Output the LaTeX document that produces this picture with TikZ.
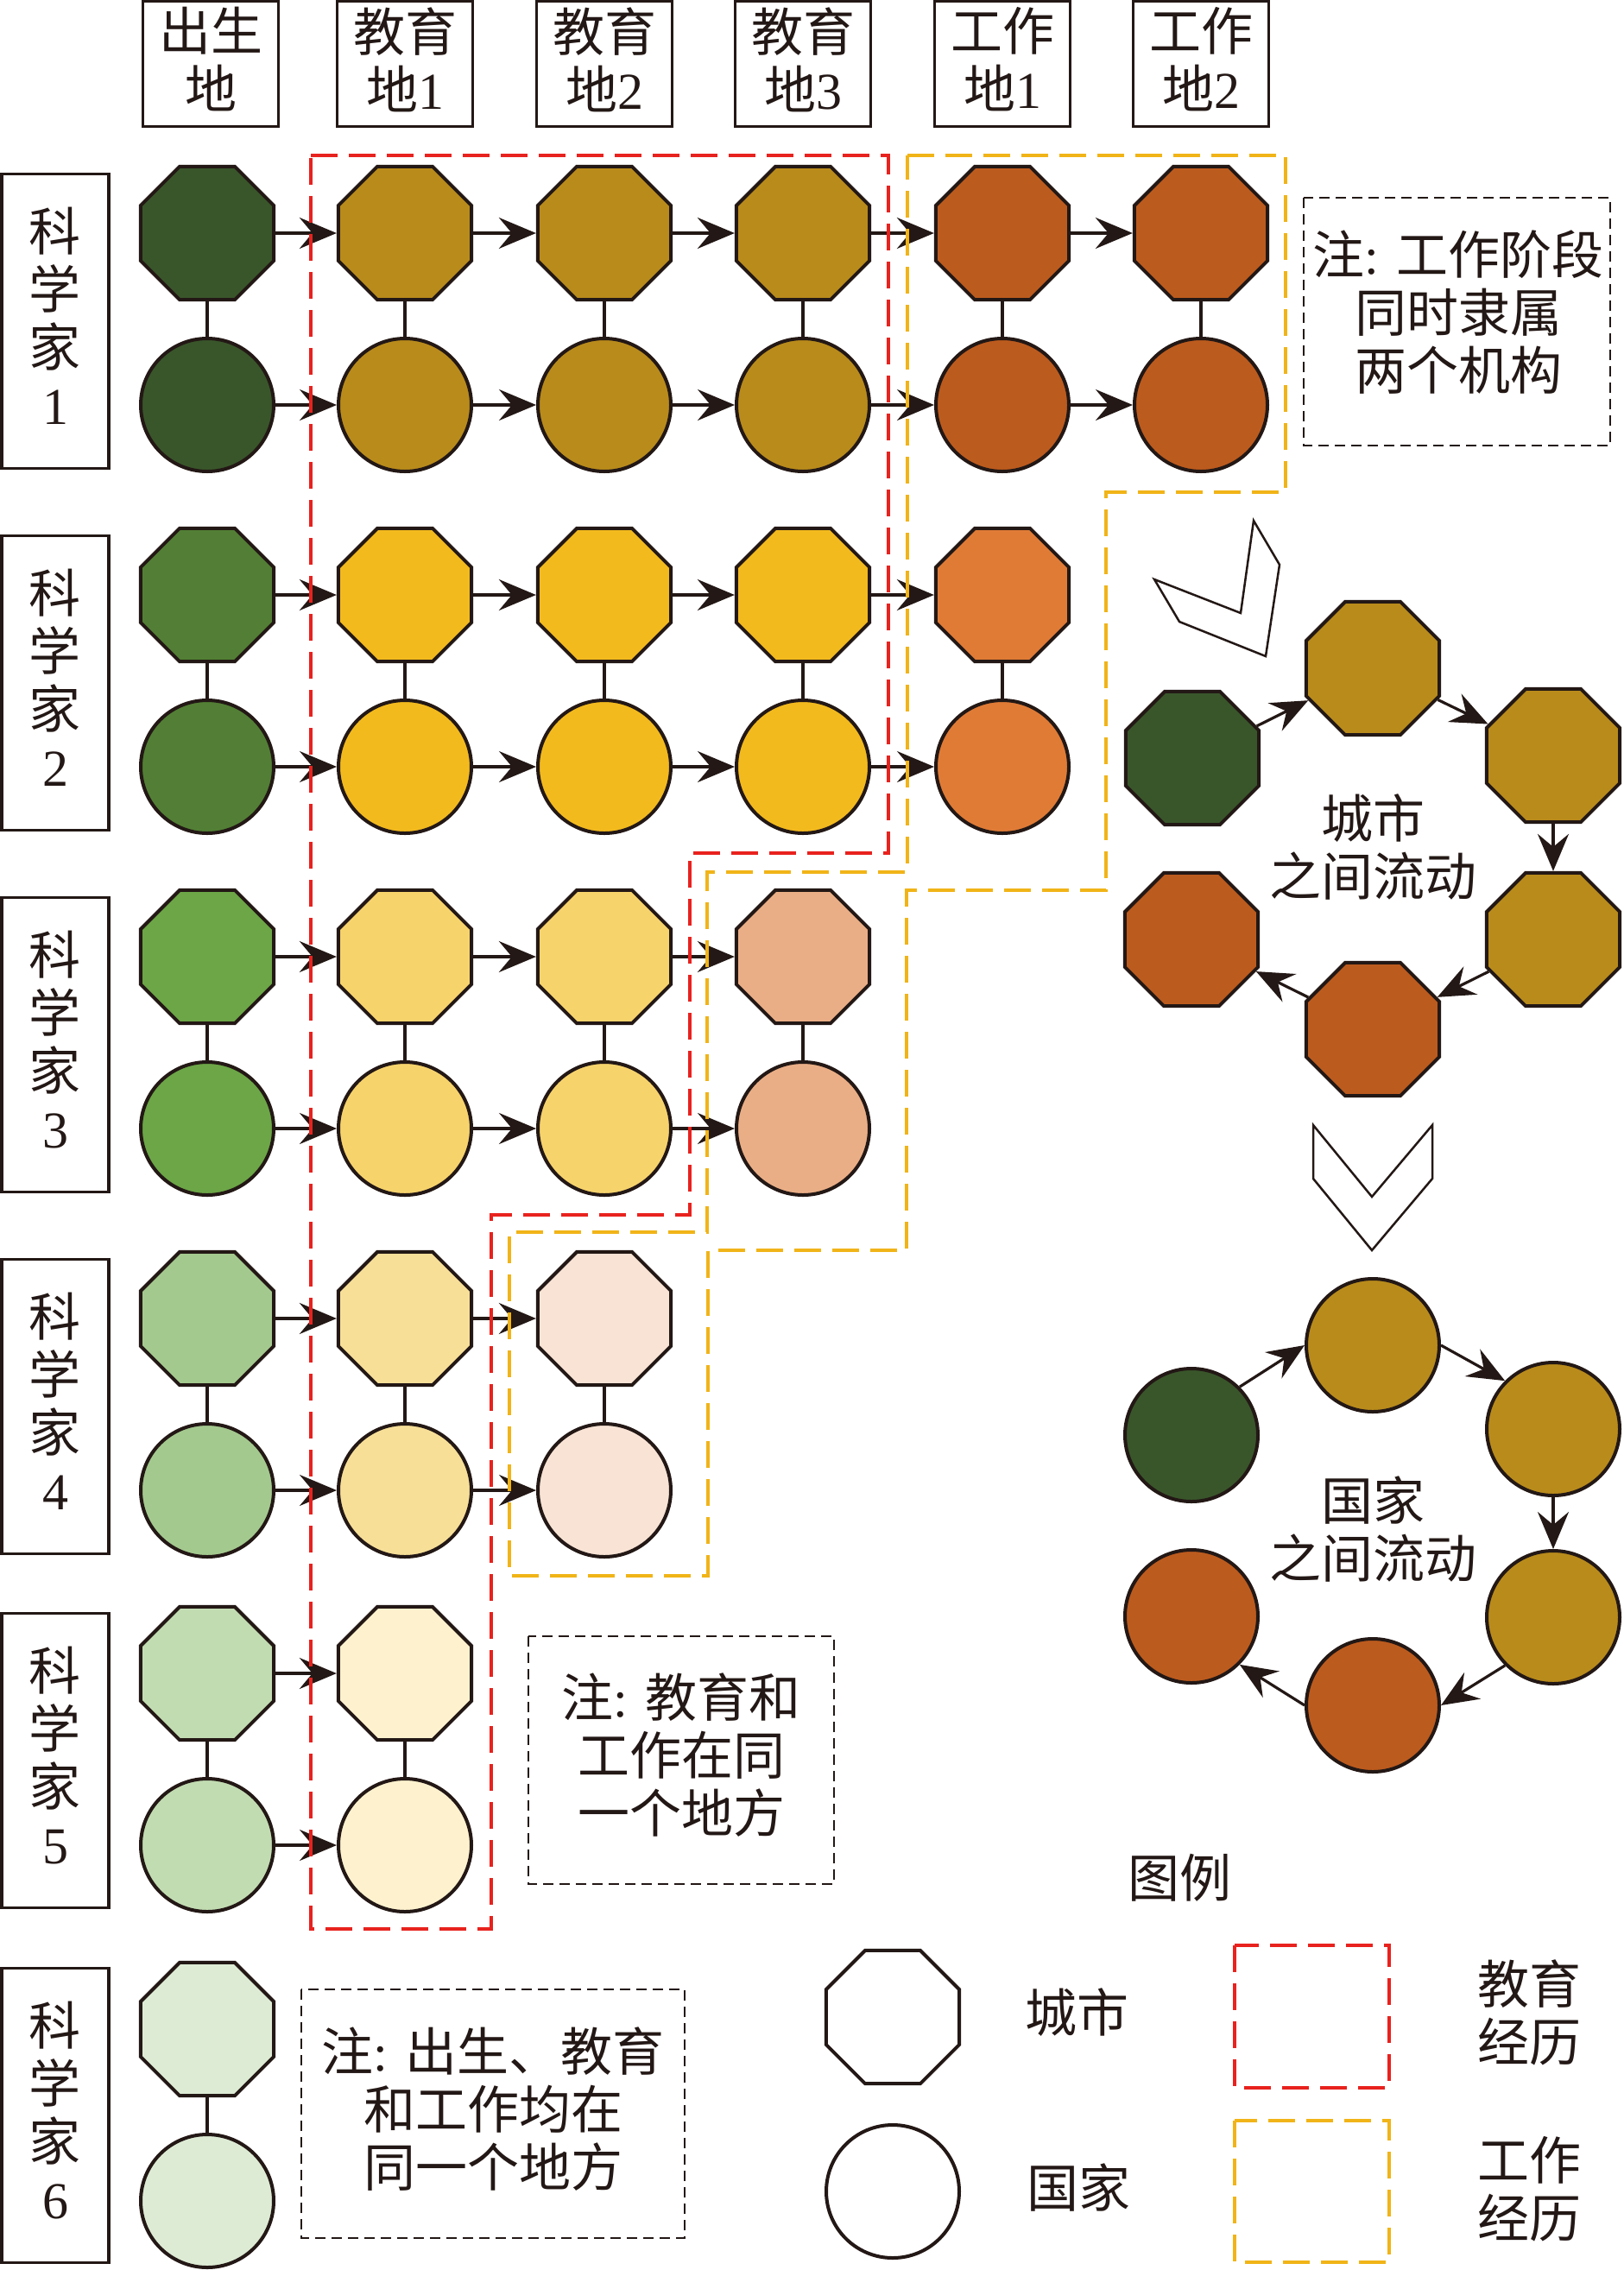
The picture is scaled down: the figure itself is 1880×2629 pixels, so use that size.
\documentclass[tikz,border=0pt]{standalone}
\usepackage{fontspec}
\setmainfont{Liberation Serif}
\newfontfamily\cjk{Noto Sans CJK SC}
\usetikzlibrary{shapes.geometric,arrows.meta}
\newcommand\C[1]{{\cjk #1}}
\newcommand\bigfont{\fontsize{60pt}{67pt}\selectfont}
\definecolor{ink}{HTML}{231815}
\definecolor{g1}{RGB}{57,86,43}
\definecolor{gold}{RGB}{185,139,27}
\definecolor{brown}{RGB}{188,91,30}
\definecolor{g2}{RGB}{82,127,53}
\definecolor{y2}{RGB}{243,186,30}
\definecolor{o2}{RGB}{224,123,54}
\definecolor{g3}{RGB}{108,166,71}
\definecolor{y3}{RGB}{247,211,108}
\definecolor{s3}{RGB}{234,174,134}
\definecolor{g4}{RGB}{164,201,143}
\definecolor{y4}{RGB}{247,223,152}
\definecolor{p4}{RGB}{248,227,213}
\definecolor{g5}{RGB}{194,220,178}
\definecolor{y5}{RGB}{254,242,206}
\definecolor{g6}{RGB}{221,235,212}
\definecolor{edured}{RGB}{232,34,30}
\definecolor{workyel}{RGB}{241,180,24}
\newcommand\pair[4]{%
  \node[oct,fill=#4] (o#1) at (#2,#3) {};
  \node[cir,fill=#4] (c#1) at (#2,#3+199) {};
  \draw[conn] (o#1) -- (c#1);}
\newcommand\hdrbox[4]{%
  \node[hdr] (h#1) at (#2,74) {};
  \node[txt] (h#1t) at (#2,69) {\C{#3}\\\C{地}#4};}
\newcommand\scilabel[3]{%
  \node[scibox] (s#1) at (64,#2) {};
  \node[txt] (s#1t) at (64,#2-6) {\C{科}\\\C{学}\\\C{家}\\#3};}
\begin{document}
\begin{tikzpicture}[x=1pt,y=-1pt,
  oct/.style={regular polygon, regular polygon sides=8, minimum size=167pt, inner sep=0pt, draw=ink, line width=4pt},
  cir/.style={circle, minimum size=154pt, inner sep=0pt, draw=ink, line width=4pt},
  conn/.style={draw=ink, line width=3.2pt},
  arr/.style={conn, -{Stealth[length=43pt,width=36pt,inset=15pt]}},
  hdr/.style={draw=ink, line width=3.5pt, minimum width=157pt, minimum height=145pt, inner sep=0pt},
  scibox/.style={draw=ink, line width=3.5pt, minimum width=124pt, minimum height=341pt, inner sep=0pt},
  note/.style={draw=ink, line width=2pt, dash pattern=on 12pt off 7pt},
  txt/.style={align=center, text=ink, font=\bigfont, inner sep=0pt},
  edu/.style={draw=edured, line width=3.6pt, dash pattern=on 31pt off 13pt},
  work/.style={draw=workyel, line width=3.8pt, dash pattern=on 31pt off 13pt},
  chev/.style={draw=ink, line width=2.5pt, fill=white, line join=miter}
]
\useasboundingbox (0,0) rectangle (1880,2629);

% headers
\hdrbox{0}{244}{出生}{}
\hdrbox{1}{469}{教育}{1}
\hdrbox{2}{700}{教育}{2}
\hdrbox{3}{930}{教育}{3}
\hdrbox{4}{1161}{工作}{1}
\hdrbox{5}{1391}{工作}{2}

% scientist labels
\scilabel{1}{372}{1}
\scilabel{2}{791}{2}
\scilabel{3}{1210}{3}
\scilabel{4}{1629}{4}
\scilabel{5}{2039}{5}
\scilabel{6}{2450}{6}

% scientist 1
\pair{1-0}{240}{270}{g1}
\pair{1-1}{469}{270}{gold}
\pair{1-2}{700}{270}{gold}
\pair{1-3}{930}{270}{gold}
\pair{1-4}{1161}{270}{brown}
\pair{1-5}{1391}{270}{brown}
% scientist 2
\pair{2-0}{240}{689}{g2}
\pair{2-1}{469}{689}{y2}
\pair{2-2}{700}{689}{y2}
\pair{2-3}{930}{689}{y2}
\pair{2-4}{1161}{689}{o2}
% scientist 3
\pair{3-0}{240}{1108}{g3}
\pair{3-1}{469}{1108}{y3}
\pair{3-2}{700}{1108}{y3}
\pair{3-3}{930}{1108}{s3}
% scientist 4
\pair{4-0}{240}{1527}{g4}
\pair{4-1}{469}{1527}{y4}
\pair{4-2}{700}{1527}{p4}
% scientist 5
\pair{5-0}{240}{1938}{g5}
\pair{5-1}{469}{1938}{y5}
% scientist 6
\pair{6-0}{240}{2350}{g6}

\foreach \r/\m in {1/4,2/3,3/2,4/1,5/0} {
  \foreach \i in {0,...,\m} {
    \pgfmathtruncatemacro\j{\i+1}
    \draw[arr] (o\r-\i) -- (o\r-\j);
    \draw[arr] (c\r-\i) -- (c\r-\j);
  }
}

% education / work outlines
\draw[edu] (360,180) -- (1029,180) -- (1029,988) -- (799,988) -- (799,1407) -- (569,1407) -- (569,2234) -- (360,2234) -- cycle;
\draw[work] (1051,180) -- (1489,180) -- (1489,570) -- (1281,570) -- (1281,1031) -- (1050,1031) -- (1050,1448) -- (820,1448) -- (820,1825) -- (590,1825) -- (590,1427) -- (819,1427) -- (819,1010) -- (1051,1010) -- cycle;

% notes
\draw[note] (1510,229) rectangle (1865,516);
\node[txt] (n1) at (1689,362) {\C{注}: \C{工作阶段}\\\C{同时隶属}\\\C{两个机构}};
\draw[note] (612,1895) rectangle (966,2182);
\node[txt] (n2) at (789,2033) {\C{注}: \C{教育和}\\\C{工作在同}\\\C{一个地方}};
\draw[note] (349,2304) rectangle (793,2592);
\node[txt] (n3) at (571,2443) {\C{注}: \C{出生、教育}\\\C{和工作均在}\\\C{同一个地方}};

% chevrons
\draw[chev] (1337,671) -- (1437,710) -- (1452,603) -- (1482,654) -- (1466,760) -- (1366,720) -- cycle;
\draw[chev] (1521,1303) -- (1589,1386) -- (1659,1303) -- (1659,1365) -- (1589,1448) -- (1521,1365) -- cycle;

% city cycle
\node[oct,fill=g1] (A) at (1381,878) {};
\node[oct,fill=gold] (B) at (1590,774) {};
\node[oct,fill=gold] (Cc) at (1799,875) {};
\node[oct,fill=gold] (D) at (1799,1088) {};
\node[oct,fill=brown] (E) at (1590,1192) {};
\node[oct,fill=brown] (F) at (1380,1088) {};
\draw[arr] (A) -- (B);
\draw[arr] (B) -- (Cc);
\draw[arr] (Cc) -- (D);
\draw[arr] (D) -- (E);
\draw[arr] (E) -- (F);
\node[txt] (t1) at (1590,981) {\C{城市}\\\C{之间流动}};

% country cycle
\node[cir,fill=g1] (G) at (1380,1662) {};
\node[cir,fill=gold] (H) at (1590,1558) {};
\node[cir,fill=gold] (I) at (1799,1655) {};
\node[cir,fill=gold] (J) at (1799,1873) {};
\node[cir,fill=brown] (K) at (1590,1975) {};
\node[cir,fill=brown] (L) at (1380,1872) {};
\draw[arr] (G.north east) -- (H.west);
\draw[arr] (H.east) -- (I.north west);
\draw[arr] (I) -- (J);
\draw[arr] (J.south west) -- (K.east);
\draw[arr] (K.west) -- (L.south east);
\node[txt] (t2) at (1590,1771) {\C{国家}\\\C{之间流动}};

% legend
\node[txt] (lg) at (1366,2175) {\C{图例}};
\node[oct,fill=white] (lo) at (1034,2336) {};
\node[cir,fill=white] (lc) at (1034,2538) {};
\node[txt] (lt1) at (1247,2331) {\C{城市}};
\node[txt] (lt2) at (1249,2533) {\C{国家}};
\draw[edu] (1430,2253) rectangle (1609,2418);
\draw[work] (1430,2456) rectangle (1609,2620);
\node[txt] (lt3) at (1771,2331) {\C{教育}\\\C{经历}};
\node[txt] (lt4) at (1771,2535) {\C{工作}\\\C{经历}};
\end{tikzpicture}
\end{document}
